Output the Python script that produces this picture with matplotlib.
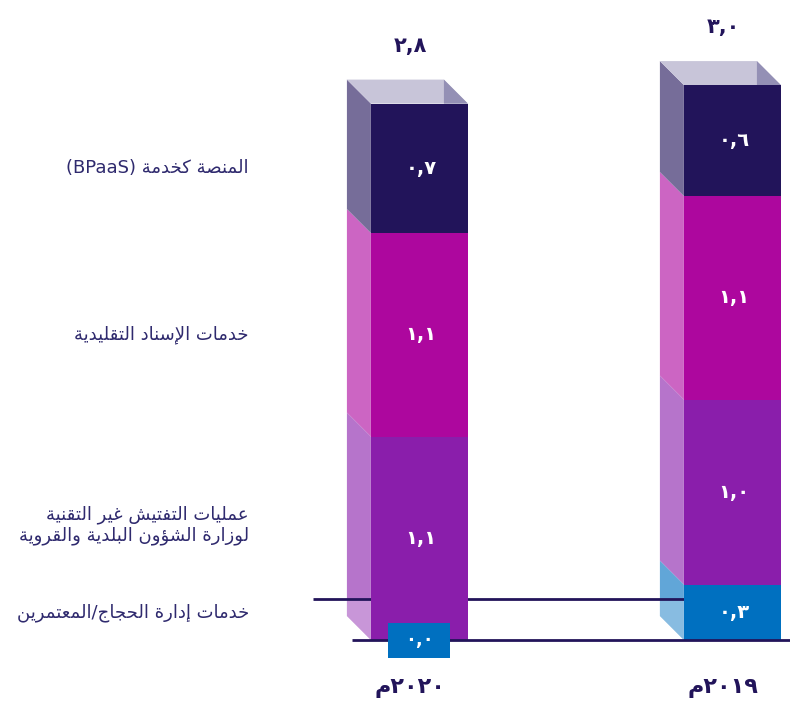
import matplotlib
matplotlib.use('Agg')
import matplotlib.pyplot as plt
from matplotlib.patches import Polygon, Rectangle
from matplotlib.colors import to_rgb

# Data
years = ['2020', '2019']
segments = ['خدمات إدارة الحجاج/المعتمرين',
            'عمليات التفتيش غير التقنية\nلوزارة الشؤون البلدية والقروية',
            'خدمات الإسناد التقليدية',
            'المنصة كخدمة']
seg_suffix = ['', '', '', ' (BPaaS)']
values_2020 = [0.0, 1.1, 1.1, 0.7]
values_2019 = [0.3, 1.0, 1.1, 0.6]
totals = [2.8, 3.0]
seg_colors = ['#0070c0', '#8a1eab', '#ad079e', '#22145a']

text_color = '#2f2a6e'

# Minimal Arabic shaping (presentation forms) for matplotlib
FORMS = {
    'ا': ('\uFE8D', '\uFE8E', None, None),
    'إ': ('\uFE87', '\uFE88', None, None),
    'ؤ': ('\uFE85', '\uFE86', None, None),
    'ب': ('\uFE8F', '\uFE90', '\uFE91', '\uFE92'),
    'ة': ('\uFE93', '\uFE94', None, None),
    'ت': ('\uFE95', '\uFE96', '\uFE97', '\uFE98'),
    'ج': ('\uFE9D', '\uFE9E', '\uFE9F', '\uFEA0'),
    'ح': ('\uFEA1', '\uFEA2', '\uFEA3', '\uFEA4'),
    'خ': ('\uFEA5', '\uFEA6', '\uFEA7', '\uFEA8'),
    'د': ('\uFEA9', '\uFEAA', None, None),
    'ر': ('\uFEAD', '\uFEAE', None, None),
    'ز': ('\uFEAF', '\uFEB0', None, None),
    'س': ('\uFEB1', '\uFEB2', '\uFEB3', '\uFEB4'),
    'ش': ('\uFEB5', '\uFEB6', '\uFEB7', '\uFEB8'),
    'ص': ('\uFEB9', '\uFEBA', '\uFEBB', '\uFEBC'),
    'ع': ('\uFEC9', '\uFECA', '\uFECB', '\uFECC'),
    'غ': ('\uFECD', '\uFECE', '\uFECF', '\uFED0'),
    'ف': ('\uFED1', '\uFED2', '\uFED3', '\uFED4'),
    'ق': ('\uFED5', '\uFED6', '\uFED7', '\uFED8'),
    'ك': ('\uFED9', '\uFEDA', '\uFEDB', '\uFEDC'),
    'ل': ('\uFEDD', '\uFEDE', '\uFEDF', '\uFEE0'),
    'م': ('\uFEE1', '\uFEE2', '\uFEE3', '\uFEE4'),
    'ن': ('\uFEE5', '\uFEE6', '\uFEE7', '\uFEE8'),
    'ه': ('\uFEE9', '\uFEEA', '\uFEEB', '\uFEEC'),
    'و': ('\uFEED', '\uFEEE', None, None),
    'ي': ('\uFEF1', '\uFEF2', '\uFEF3', '\uFEF4'),
}
LAM_ALEF = {'ا': ('\uFEFB', '\uFEFC'), 'إ': ('\uFEF9', '\uFEFA'),
            'أ': ('\uFEF7', '\uFEF8'), 'آ': ('\uFEF5', '\uFEF6')}


def dual(c):
    return c in FORMS and FORMS[c][2] is not None


def shape_ar(s):
    out = []
    i = 0
    while i < len(s):
        c = s[i]
        prev_j = i > 0 and dual(s[i - 1])
        if c == 'ل' and i + 1 < len(s) and s[i + 1] in LAM_ALEF:
            out.append(LAM_ALEF[s[i + 1]][1 if prev_j else 0])
            i += 2
            continue
        if c not in FORMS:
            out.append(c)
            i += 1
            continue
        next_j = dual(c) and i + 1 < len(s) and s[i + 1] in FORMS
        f = FORMS[c]
        if prev_j and next_j:
            out.append(f[3])
        elif prev_j:
            out.append(f[1])
        elif next_j:
            out.append(f[2])
        else:
            out.append(f[0])
        i += 1
    return ''.join(out)[::-1]


def ar_num(v):
    digits = '٠١٢٣٤٥٦٧٨٩'
    s = f'{v:.1f}'.replace('.', ',')
    return ''.join(digits[int(ch)] if ch.isdigit() else ch for ch in s)


def ar_year(y):
    digits = '٠١٢٣٤٥٦٧٨٩'
    return shape_ar('م') + ''.join(digits[int(ch)] for ch in y)


def lighten(c, a):
    r, g, b = to_rgb(c)
    return (r * a + 1 - a, g * a + 1 - a, b * a + 1 - a)


fig = plt.figure(figsize=(7.9, 7.02), dpi=100)
ax = fig.add_axes([0, 0, 1, 1])
xmin, xmax = -1.34, 1.184
ymin, ymax = -0.335, 3.46
ax.set_xlim(xmin, xmax)
ax.set_ylim(ymin, ymax)
ax.axis('off')

sx = 790 / (xmax - xmin)   # px per x unit
sy = 702 / (ymax - ymin)   # px per y unit
dx = -24 / sx
dy = 24 / sy
width = 97 / sx
leader_y = 41 / sy

all_values = [values_2020, values_2019]
for xi, vals in enumerate(all_values):
    xl = xi - width / 2
    xr = xi + width / 2
    bottom = 0.0
    for k, v in enumerate(vals):
        if v > 0:
            # side face
            ax.add_patch(Polygon([(xl, bottom), (xl + dx, bottom + dy),
                                  (xl + dx, bottom + v + dy), (xl, bottom + v)],
                                 closed=True, facecolor=lighten(seg_colors[k], 0.62),
                                 edgecolor='none', zorder=1))
            ax.bar(xi, v, width=width, bottom=bottom, color=seg_colors[k], zorder=3)
            ax.text(xi + 0.005, bottom + v / 2, ar_num(v), color='white',
                    fontsize=14, fontweight='bold', ha='center', va='center', zorder=4)
        else:
            bw, bh = 62 / sx, 35 / sy
            ax.add_patch(Rectangle((xi - bw / 2, bottom - bh / 2), bw, bh,
                                   facecolor=seg_colors[k], edgecolor='none', zorder=5))
            ax.text(xi, bottom, ar_num(v), color='white', fontsize=13,
                    fontweight='bold', ha='center', va='center', zorder=6)
        bottom += v
    top = bottom
    # lighter lower part of side face
    ax.add_patch(Polygon([(xl, 0), (xl + dx, dy), (xl + dx, leader_y), (xl, leader_y)],
                         closed=True, facecolor='white', alpha=0.25,
                         edgecolor='none', zorder=1.5))
    # top face
    ax.add_patch(Polygon([(xl, top), (xl + dx, top + dy), (xr + dx, top + dy), (xr, top)],
                         closed=True, facecolor='#c8c5d9', edgecolor='none', zorder=1))
    ax.add_patch(Polygon([(xr + dx, top + dy), (xr, top), (xr + dx, top)],
                         closed=True, facecolor='#9490b5', edgecolor='none', zorder=1.2))
    # total above bar
    ax.text(xi - 0.03, top + dy + 34 / sy, ar_num(totals[xi]), color='#22145a',
            fontsize=15, fontweight='bold', ha='center', va='center')
    # year label
    ax.text(xi - 0.03, -48 / sy, ar_year(years[xi]), color='#22145a',
            fontsize=16, fontweight='bold', ha='center', va='center')

# lines
ax.plot([xmin + 313 / sx, 1 - width / 2], [leader_y, leader_y], color='#22145a',
        lw=2, zorder=2, solid_capstyle='butt')
ax.plot([xmin + 352 / sx, xmax], [0, 0], color='#22145a', lw=2, zorder=4,
        solid_capstyle='butt')

# category labels on the left
label_x = xmin + 249 / sx
label_y = []
cum = 0.0
for v in values_2020:
    label_y.append(cum + v / 2)
    cum += v
label_y[0] = values_2019[0] / 2
label_shift = [0, 13, 0, 0]  # px, nudges the two-line label up a bit
for k, name in enumerate(segments):
    txt = '\n'.join(seg_suffix[k].strip() + (' ' if seg_suffix[k] else '') + shape_ar(line)
                    for line in name.split('\n'))
    ax.text(label_x, label_y[k] + label_shift[k] / sy, txt, color=text_color,
            fontsize=13, ha='right', va='center', linespacing=1.15)

fig.savefig('out.png', dpi=100)
